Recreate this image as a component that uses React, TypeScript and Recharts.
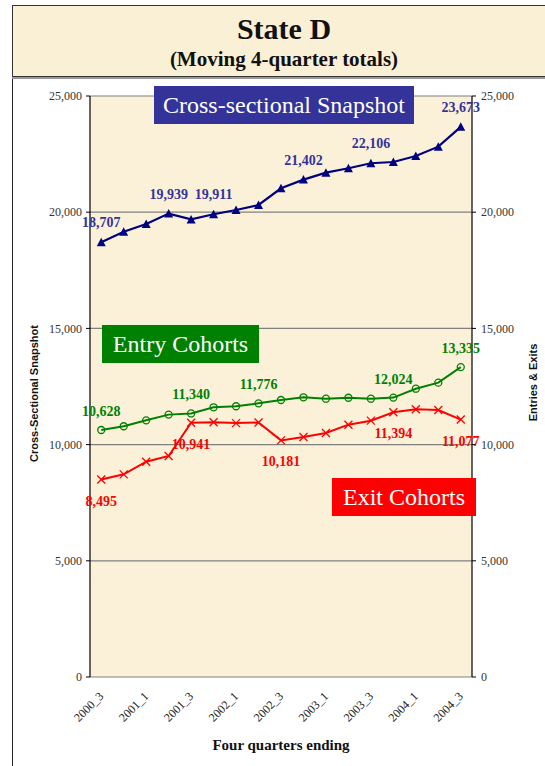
import React from 'react';
import { ComposedChart, Line, XAxis, YAxis, CartesianGrid, LabelList } from 'recharts';

const categories = ['2000_3','2000_4','2001_1','2001_2','2001_3','2001_4','2002_1','2002_2','2002_3','2002_4','2003_1','2003_2','2003_3','2003_4','2004_1','2004_2','2004_3'];
const crossSectional = [18707, 19160, 19490, 19939, 19690, 19911, 20095, 20310, 21030, 21402, 21700, 21890, 22106, 22160, 22420, 22820, 23673];
const entryCohorts = [10628, 10790, 11045, 11290, 11340, 11605, 11650, 11776, 11920, 12035, 11975, 12015, 11975, 12024, 12405, 12665, 13335];
const exitCohorts = [8495, 8720, 9265, 9510, 10941, 10960, 10925, 10950, 10181, 10327, 10500, 10857, 11030, 11394, 11520, 11490, 11077];

const crossLabelIdx = [0, 3, 5, 9, 12, 16];
const entryLabelIdx = [0, 4, 7, 13, 16];
const exitLabelIdx = [0, 4, 8, 13, 16];

const yTicks = [0, 5000, 10000, 15000, 20000, 25000];
const markTicks = [0,1,2,3,4,5,6,7,8,9,10,11,12,13,14,15,16,17];

const data = categories.map((c, i) => ({
  cat: c,
  cross: crossSectional[i],
  entry: entryCohorts[i],
  exit: exitCohorts[i],
}));

const fmt = (v: number) => v.toLocaleString('en-US');
const SERIF = '"Liberation Serif", "Times New Roman", serif';
const SANS = '"Liberation Sans", Arial, sans-serif';

const Triangle = (props: any) => {
  const { cx, cy } = props;
  if (cx == null || cy == null) return null;
  return <polygon points={`${cx - 4.5},${cy + 4} ${cx + 4.5},${cy + 4} ${cx},${cy - 4.5}`} fill="#000080" />;
};
const Circle = (props: any) => {
  const { cx, cy } = props;
  if (cx == null || cy == null) return null;
  return <circle cx={cx} cy={cy} r={3.5} fill="none" stroke="#008000" strokeWidth={1.3} />;
};
const Cross = (props: any) => {
  const { cx, cy } = props;
  if (cx == null || cy == null) return null;
  return (
    <g stroke="#FF0000" strokeWidth={1.3}>
      <line x1={cx - 4} y1={cy - 4} x2={cx + 4} y2={cy + 4} />
      <line x1={cx - 4} y1={cy + 4} x2={cx + 4} y2={cy - 4} />
    </g>
  );
};

const makeLabel = (idx: number[], color: string, dy: number) => (props: any) => {
  const { x, y, value, index } = props;
  if (!idx.includes(index)) return null;
  return (
    <text x={x} y={y + dy} textAnchor="middle" fill={color} fontFamily={SERIF} fontWeight="bold" fontSize={14}>
      {fmt(value)}
    </text>
  );
};

const XTick = (props: any) => {
  const { x, y, payload } = props;
  const ax = x + 3;
  const ay = y + 12;
  return (
    <text
      x={ax}
      y={ay}
      transform={`rotate(-45, ${ax}, ${ay})`}
      textAnchor="end"
      fill="#222"
      fontFamily={SERIF}
      fontSize={12}
    >
      {payload.value}
    </text>
  );
};

const boxStyle = (left: number, top: number, width: number, height: number, bg: string): React.CSSProperties => ({
  position: 'absolute',
  left,
  top,
  width,
  height,
  background: bg,
  color: '#fff',
  fontFamily: SERIF,
  fontSize: 24,
  display: 'flex',
  alignItems: 'center',
  justifyContent: 'center',
  whiteSpace: 'nowrap',
});

export default function App() {
  return (
    <div style={{ position: 'absolute', left: 0, top: 0, width: 545, height: 766, background: '#fff', overflow: 'hidden' }}>
      <div style={{ position: 'absolute', left: 12, top: 5, width: 1, height: 761, background: '#222' }} />
      <div
        style={{
          position: 'absolute',
          left: 12,
          top: 5,
          width: 542,
          height: 70,
          background: '#FAF0D6',
          border: '1px solid #333',
          boxShadow: '0 2px 0 #999',
          fontFamily: SERIF,
          fontWeight: 'bold',
          textAlign: 'center',
          color: '#111',
        }}
      >
        <div style={{ fontSize: 30, marginTop: 7, lineHeight: '32px' }}>State D</div>
        <div style={{ fontSize: 21, marginTop: 2, lineHeight: '24px' }}>(Moving 4-quarter totals)</div>
      </div>
      <ComposedChart
        width={545}
        height={766}
        data={data}
        margin={{ top: 96, right: 13, bottom: 14, left: 30 }}
        style={{ position: 'absolute', left: 0, top: 0 }}
      >
        <CartesianGrid xAxisId="cat" yAxisId="left" vertical={false} stroke="#808080" strokeWidth={1.2} fill="#FBF1D9" fillOpacity={1} />
        <XAxis
          xAxisId="marks"
          type="number"
          domain={[0, 17]}
          allowDataOverflow
          ticks={markTicks}
          tick={false}
          height={0}
          axisLine={{ stroke: '#000', strokeWidth: 1.2 }}
          tickLine={{ stroke: '#000' }}
          tickSize={4}
        />
        <XAxis
          xAxisId="cat"
          dataKey="cat"
          scale="band"
          interval={1}
          height={75}
          axisLine={false}
          tickLine={false}
          tick={<XTick />}
          label={{ value: 'Four quarters ending', position: 'insideBottom', offset: 2, fill: '#111', fontFamily: SERIF, fontWeight: 'bold', fontSize: 15 }}
        />
        <YAxis
          yAxisId="left"
          domain={[0, 25000]}
          ticks={yTicks}
          width={60}
          tickFormatter={fmt}
          tick={{ fill: '#333', fontFamily: SERIF, fontSize: 12 }}
          axisLine={{ stroke: '#000', strokeWidth: 1.2 }}
          tickLine={{ stroke: '#000' }}
          tickSize={4}
          tickMargin={4}
          label={{ value: 'Cross-Sectional Snapshot', angle: -90, position: 'center', dx: -26, dy: 7, fill: '#111', fontFamily: SANS, fontWeight: 'bold', fontSize: 11 }}
        />
        <YAxis
          yAxisId="right"
          orientation="right"
          domain={[0, 25000]}
          allowDataOverflow
          ticks={yTicks}
          width={60}
          tickFormatter={fmt}
          tick={{ fill: '#333', fontFamily: SERIF, fontSize: 12, textAnchor: 'start' }}
          axisLine={{ stroke: '#000', strokeWidth: 1.2 }}
          tickLine={{ stroke: '#000' }}
          tickSize={4}
          tickMargin={5}
          label={{ value: 'Entries & Exits', angle: -90, position: 'center', dx: 31, dy: -4, fill: '#111', fontFamily: SANS, fontWeight: 'bold', fontSize: 11 }}
        />
        <Line xAxisId="cat" yAxisId="left" dataKey="cross" stroke="#000080" strokeWidth={2.2} dot={<Triangle />} isAnimationActive={false}>
          <LabelList dataKey="cross" content={makeLabel(crossLabelIdx, '#333399', -15)} />
        </Line>
        <Line xAxisId="cat" yAxisId="left" dataKey="entry" stroke="#008000" strokeWidth={2} dot={<Circle />} isAnimationActive={false}>
          <LabelList dataKey="entry" content={makeLabel(entryLabelIdx, '#008000', -14)} />
        </Line>
        <Line xAxisId="cat" yAxisId="left" dataKey="exit" stroke="#FF0000" strokeWidth={2} dot={<Cross />} isAnimationActive={false}>
          <LabelList dataKey="exit" content={makeLabel(exitLabelIdx, '#FF0000', 26)} />
        </Line>
      </ComposedChart>
      <div style={boxStyle(154, 86, 260, 38, '#333399')}>Cross-sectional Snapshot</div>
      <div style={boxStyle(102, 325, 157, 38, '#008000')}>Entry Cohorts</div>
      <div style={boxStyle(332, 478, 144, 38, '#FF0000')}>Exit Cohorts</div>
    </div>
  );
}
